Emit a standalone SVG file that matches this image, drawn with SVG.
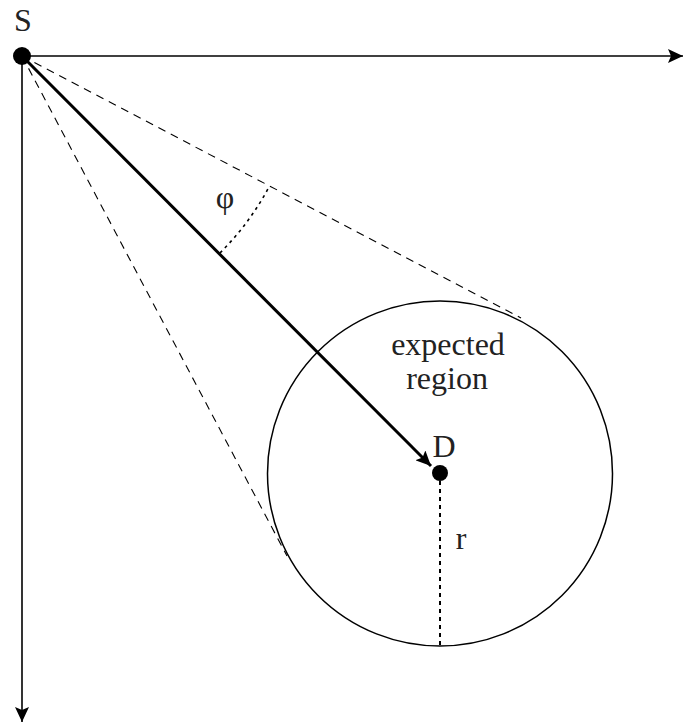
<svg xmlns="http://www.w3.org/2000/svg" width="685" height="725" viewBox="0 0 685 725">
<style>
.axis{stroke:#000;stroke-width:1.6;fill:none}
.tan{stroke:#000;stroke-width:1.1;fill:none;stroke-dasharray:8 6}
.dot{stroke:#000;stroke-width:1.6;fill:none;stroke-dasharray:3 4}
.rad{stroke:#000;stroke-width:2;fill:none;stroke-dasharray:4 4}
.lbl{font-family:"Liberation Serif","DejaVu Serif",serif;font-size:32px;fill:#222}
</style>
<defs>
<marker id="ah" markerWidth="16" markerHeight="14" refX="15" refY="7" orient="auto" markerUnits="userSpaceOnUse">
<path d="M0,0 L15,7 L0,14 L3,7 Z" fill="#000"/>
</marker>
</defs>
<rect width="685" height="725" fill="#fff"/>
<g id="connectors">
<line class="axis" x1="22" y1="56" x2="683" y2="56" marker-end="url(#ah)"/>
<line class="axis" x1="22" y1="56" x2="22" y2="722" marker-end="url(#ah)"/>
<line class="tan" x1="22" y1="56" x2="521" y2="318"/>
<line class="tan" x1="22" y1="56" x2="287" y2="556"/>
<path class="dot" d="M220,253 A279,279 0 0 0 269,187"/>
<line x1="22" y1="56" x2="431" y2="466" stroke="#000" stroke-width="3" marker-end="url(#ah)"/>
<line class="rad" x1="440" y1="473" x2="440" y2="646"/>
</g>
<g id="region">
<circle cx="440" cy="473.5" r="172.5" fill="none" stroke="#000" stroke-width="1.5"/>
<text class="lbl" x="448" y="355" text-anchor="middle">expected</text>
<text class="lbl" x="447" y="389" text-anchor="middle">region</text>
</g>
<g id="S">
<circle cx="22" cy="56" r="9" fill="#000"/>
<text class="lbl" x="23" y="31" text-anchor="middle">S</text>
</g>
<g id="D">
<circle cx="440" cy="473" r="8" fill="#000"/>
<text class="lbl" x="444" y="457" text-anchor="middle">D</text>
</g>
<g id="labels">
<text class="lbl" x="225" y="208" text-anchor="middle">φ</text>
<text class="lbl" x="461" y="549" text-anchor="middle">r</text>
</g>
</svg>
